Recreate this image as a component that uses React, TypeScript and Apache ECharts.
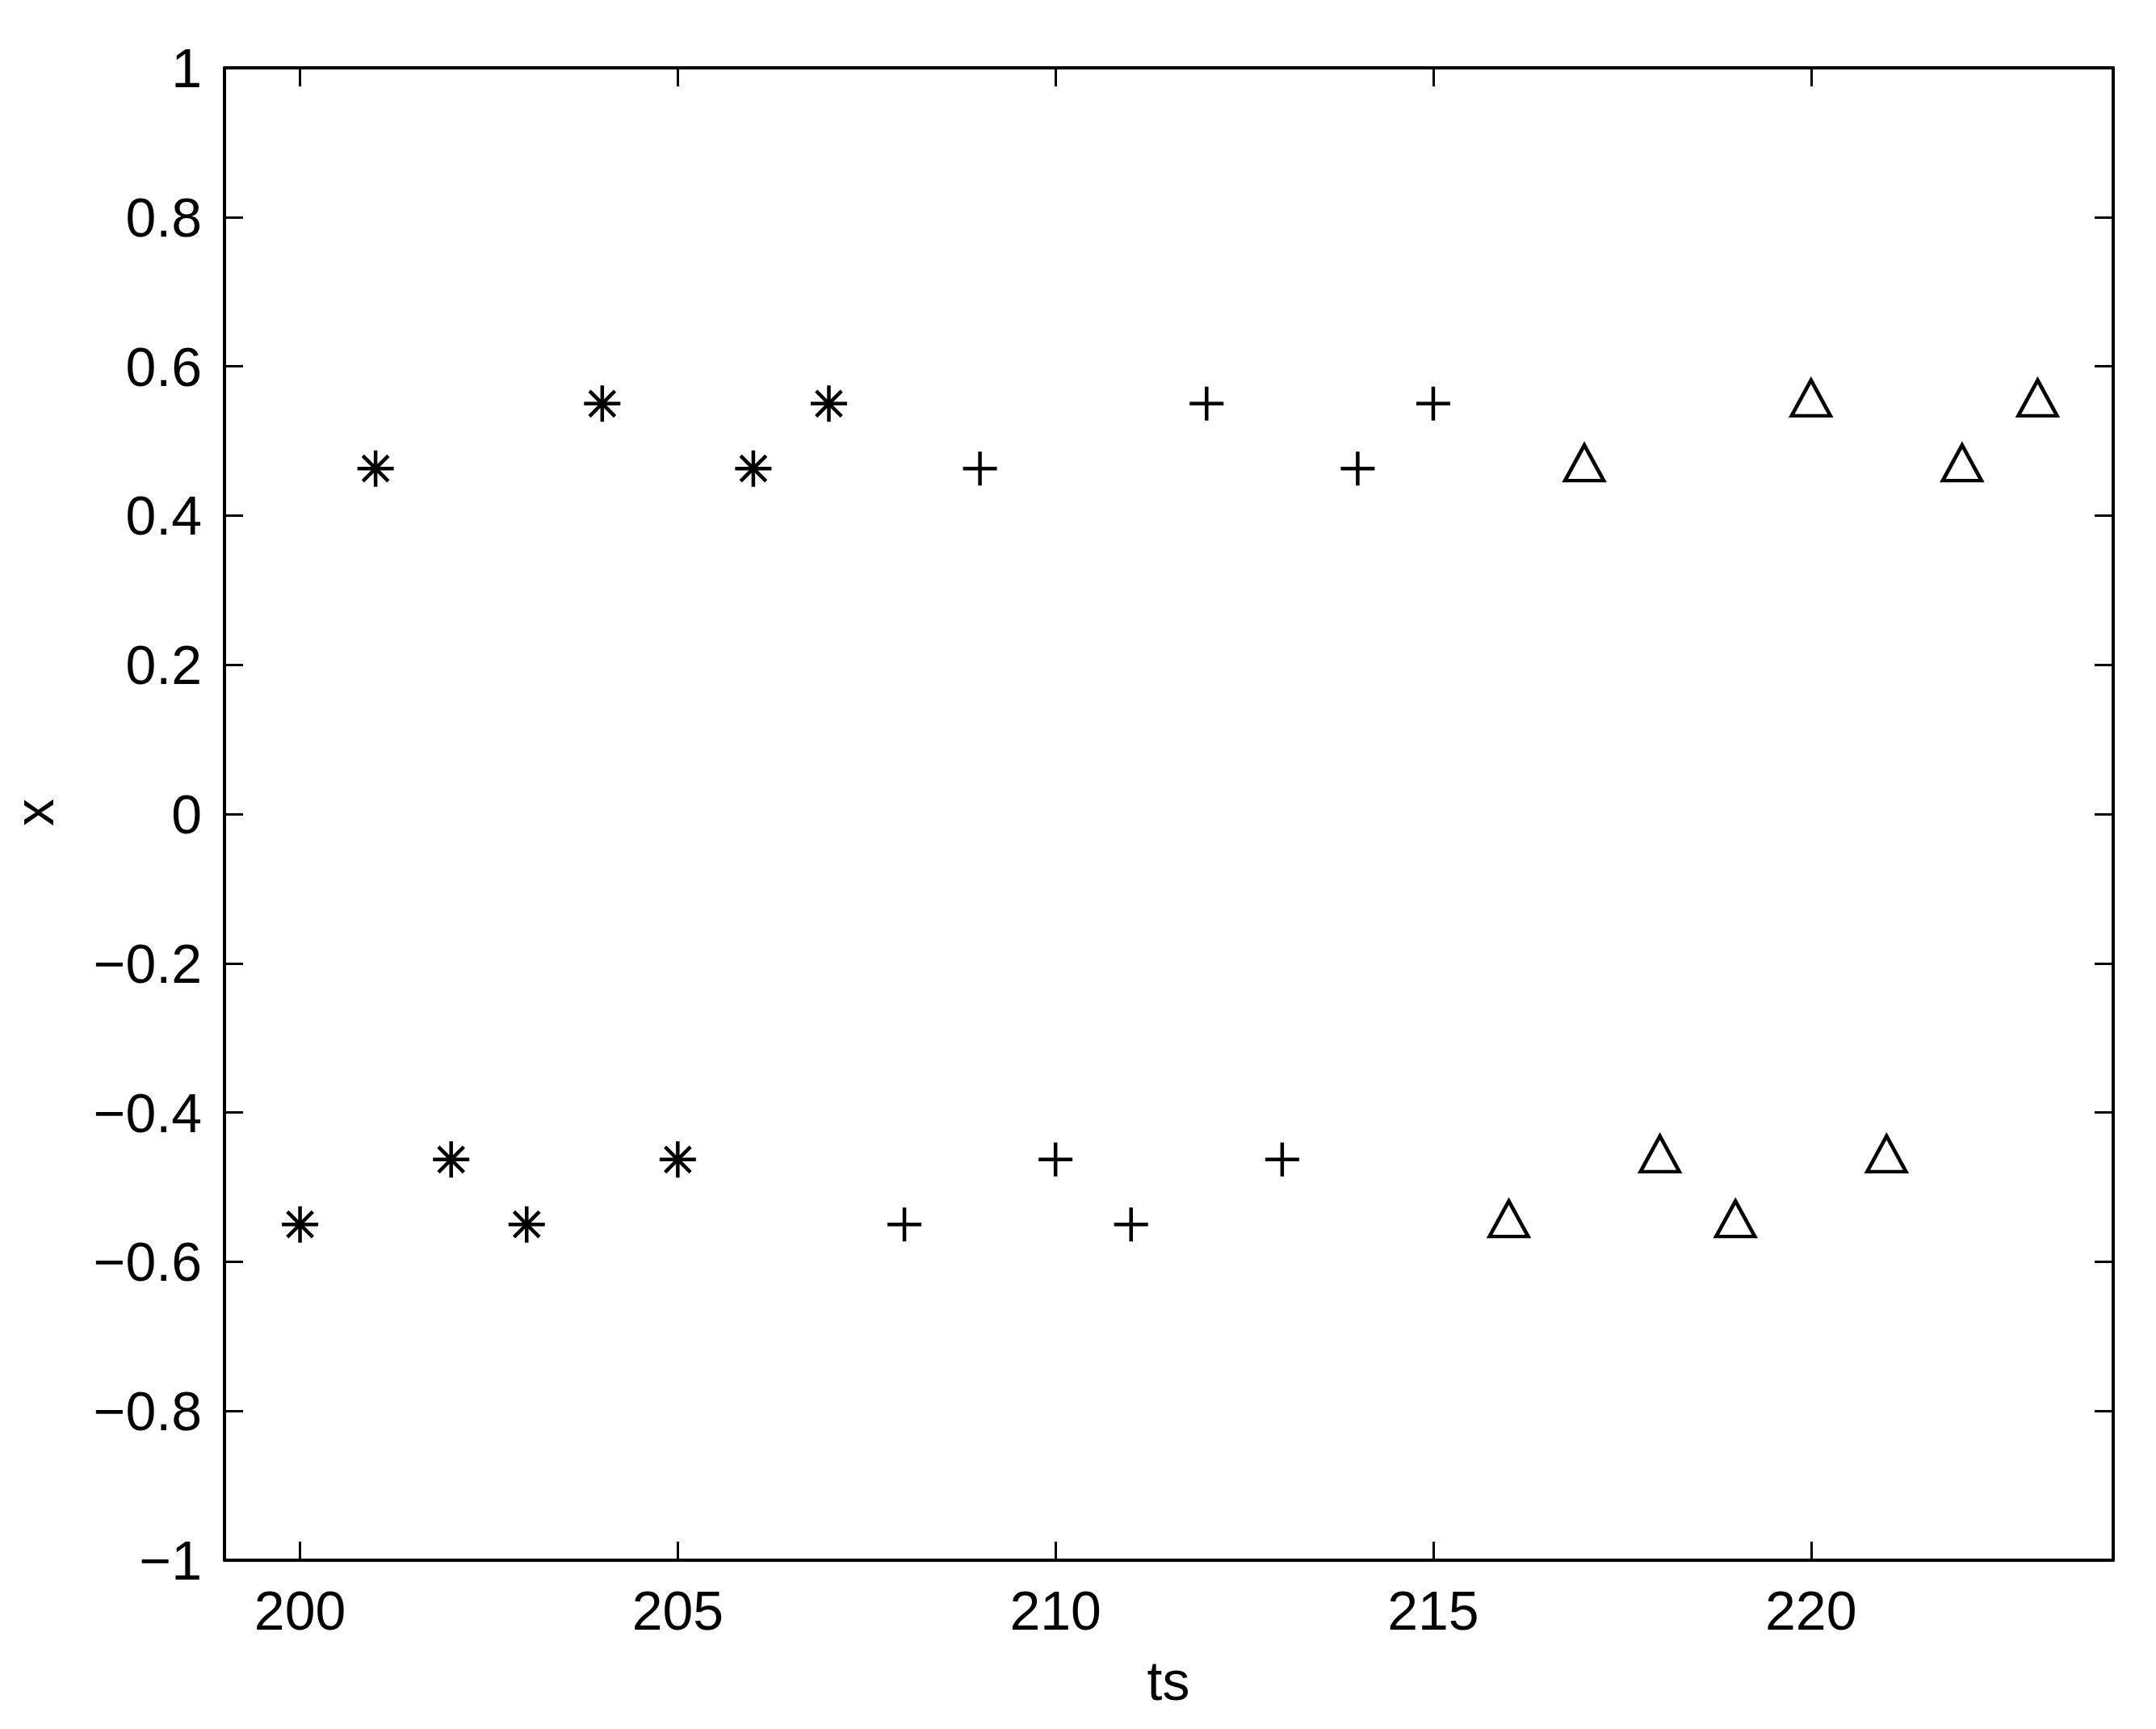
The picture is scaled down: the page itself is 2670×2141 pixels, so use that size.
import React, { useEffect, useRef } from "react";
import * as echarts from "echarts";

const tsStar = [200, 201, 202, 203, 204, 205, 206, 207];
const xStar = [-0.55, 0.463, -0.463, -0.55, 0.55, -0.463, 0.463, 0.55];
const tsPlus = [208, 209, 210, 211, 212, 213, 214, 215];
const xPlus = [-0.55, 0.463, -0.463, -0.55, 0.55, -0.463, 0.463, 0.55];
const tsTri = [216, 217, 218, 219, 220, 221, 222, 223];
const xTri = [-0.55, 0.463, -0.463, -0.55, 0.55, -0.463, 0.463, 0.55];

const xTicks = [200, 205, 210, 215, 220];
const yTicks = [-1, -0.8, -0.6, -0.4, -0.2, 0, 0.2, 0.4, 0.6, 0.8, 1];

const FONT = "'Liberation Sans', Arial, Helvetica, sans-serif";

const STAR = "path://M0,-1L0,1M-1,0L1,0M-0.7,-0.7L0.7,0.7M-0.7,0.7L0.7,-0.7";
const PLUS = "path://M0,-1L0,1M-1,0L1,0";
const TRI = "path://M0,-1L1,1L-1,1Z";

function pairs(xs: number[], ys: number[]) {
  return xs.map((x, i) => [x, ys[i]]);
}

function fmt(v: number) {
  const s = String(Number(v.toFixed(1)));
  return s.replace("-", "\u2212");
}

export default function App() {
  const ref = useRef<HTMLDivElement>(null);
  useEffect(() => {
    document.body.style.margin = "0";
    const chart = echarts.init(ref.current!, null, { renderer: "svg" });
    const lineStyle = { color: "#000", width: 4 };
    const tickStyle = { color: "#000", width: 3 };
    const markerStyle = { color: "none", borderColor: "#000", borderWidth: 4.5, opacity: 1 };
    chart.setOption({
      animation: false,
      backgroundColor: "#fff",
      grid: { left: 278, right: 53, top: 84, bottom: 209, containLabel: false },
      xAxis: [
        {
          type: "value",
          position: "bottom",
          min: 199,
          max: 224,
          axisLine: { show: true, lineStyle, onZero: false },
          axisTick: { show: true, inside: true, length: 23, lineStyle: tickStyle, customValues: xTicks },
          axisLabel: {
            show: true,
            customValues: xTicks,
            margin: 28,
            color: "#000",
            fontSize: 68,
            fontFamily: FONT,
            formatter: (v: number) => fmt(v),
          },
          splitLine: { show: false },
        },
        {
          type: "value",
          position: "top",
          min: 199,
          max: 224,
          axisLine: { show: true, lineStyle, onZero: false },
          axisTick: { show: true, inside: true, length: 23, lineStyle: tickStyle, customValues: xTicks },
          axisLabel: { show: false },
          splitLine: { show: false },
        },
      ],
      yAxis: [
        {
          type: "value",
          position: "left",
          min: -1,
          max: 1,
          axisLine: { show: true, lineStyle, onZero: false },
          axisTick: { show: true, inside: true, length: 23, lineStyle: tickStyle, customValues: yTicks },
          axisLabel: {
            show: true,
            customValues: yTicks,
            margin: 28,
            color: "#000",
            fontSize: 68,
            fontFamily: FONT,
            formatter: (v: number) => fmt(v),
          },
          splitLine: { show: false },
        },
        {
          type: "value",
          position: "right",
          min: -1,
          max: 1,
          axisLine: { show: true, lineStyle, onZero: false },
          axisTick: { show: true, inside: true, length: 23, lineStyle: tickStyle, customValues: yTicks },
          axisLabel: { show: false },
          splitLine: { show: false },
        },
      ],
      graphic: [
        {
          type: "text",
          x: 1447,
          y: 2081,
          style: { text: "ts", font: `68px ${FONT}`, fill: "#000", textAlign: "center", textVerticalAlign: "middle" },
        },
        {
          type: "text",
          x: 42,
          y: 1006,
          rotation: Math.PI / 2,
          style: { text: "x", font: `68px ${FONT}`, fill: "#000", textAlign: "center", textVerticalAlign: "middle" },
        },
      ],
      series: [
        {
          type: "scatter",
          xAxisIndex: 0,
          yAxisIndex: 0,
          data: pairs(tsStar, xStar),
          symbol: STAR,
          symbolSize: 45,
          itemStyle: markerStyle,
        },
        {
          type: "scatter",
          xAxisIndex: 0,
          yAxisIndex: 0,
          data: pairs(tsPlus, xPlus),
          symbol: PLUS,
          symbolSize: 42,
          itemStyle: markerStyle,
        },
        {
          type: "scatter",
          xAxisIndex: 0,
          yAxisIndex: 0,
          data: pairs(tsTri, xTri),
          symbol: TRI,
          symbolSize: [48, 44],
          symbolOffset: [0, -7],
          itemStyle: markerStyle,
        },
      ],
    });
    return () => chart.dispose();
  }, []);
  return (
    <div
      ref={ref}
      style={{ position: "absolute", left: 0, top: 0, width: 2670, height: 2141 }}
    />
  );
}
